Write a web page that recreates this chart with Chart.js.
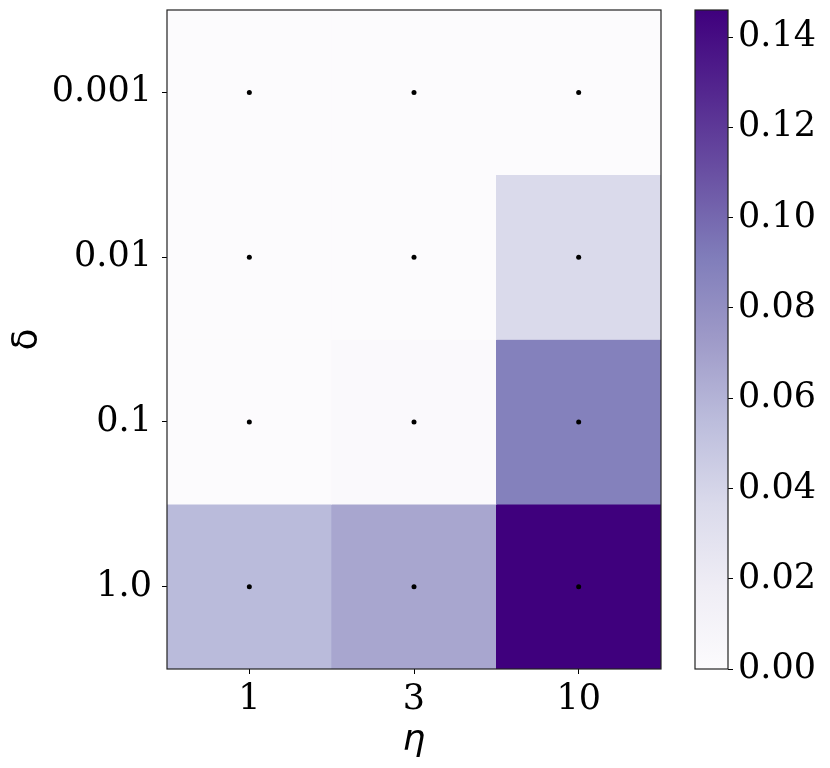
<!DOCTYPE html>
<html>
<head>
<meta charset="utf-8">
<script src="https://cdn.jsdelivr.net/npm/chart.js@4.4.1/dist/chart.umd.min.js"></script>
<style>
  body { margin: 0; background: #fff; }
  #wrap { position: relative; width: 830px; height: 768px; }
  canvas { position: absolute; top: 0; }
  #heat { left: 0; }
  #bar { left: 680px; }
</style>
</head>
<body>
<div id="wrap">
  <canvas id="heat" width="680" height="768"></canvas>
  <canvas id="bar" width="150" height="768"></canvas>
</div>
<script>
// data, rows from top to bottom
let etaLabels = ["1", "3", "10"];
let deltaLabels = ["0.001", "0.01", "0.1", "1.0"];
let row0001 = [0.0002, 0.0002, 0.0004];
let row001 = [0.0002, 0.0003, 0.0365];
let row01 = [0.0003, 0.003, 0.089];
let row1 = [0.056, 0.067, 0.146];
let allRows = [row0001, row001, row01, row1];
let colorbarTicks = [0, 0.02, 0.04, 0.06, 0.08, 0.1, 0.12, 0.14];
let vmax = 0.146;

// matplotlib Purples
let purpleStops = ["#fcfbfd", "#efedf5", "#dadaeb", "#bcbddc", "#9e9ac8", "#807dba", "#6a51a3", "#54278f", "#3f007d"];

function hexToRgb(hex) {
  return [parseInt(hex.substr(1, 2), 16), parseInt(hex.substr(3, 2), 16), parseInt(hex.substr(5, 2), 16)];
}

function purples(value) {
  let t = Math.max(0, Math.min(1, value / vmax)) * (purpleStops.length - 1);
  let i = Math.min(Math.floor(t), purpleStops.length - 2);
  let f = t - i;
  let a = hexToRgb(purpleStops[i]);
  let b = hexToRgb(purpleStops[i + 1]);
  let c = a.map((v, k) => Math.round(v + (b[k] - v) * f));
  return `rgb(${c[0]}, ${c[1]}, ${c[2]})`;
}

Chart.defaults.font.family = "DejaVu Serif";
Chart.defaults.font.size = 35;
Chart.defaults.color = "#000";
Chart.defaults.animation = false;

let framePlugin = {
  id: "frame",
  afterDraw(chart) {
    let a = chart.chartArea;
    let ctx = chart.ctx;
    ctx.save();
    ctx.strokeStyle = "#222";
    ctx.lineWidth = 1.2;
    ctx.strokeRect(a.left, a.top, a.right - a.left, a.bottom - a.top);
    ctx.restore();
  },
};

function noEdgePadding(scale) {
  scale.paddingTop = 0;
  scale.paddingBottom = 0;
  scale.paddingLeft = 0;
  scale.paddingRight = 0;
}

function buildDatasets() {
  let sets = [];
  let n = deltaLabels.length;
  for (let r = 0; r < n; r++) {
    let y0 = n - r - 1;
    sets.push({
      type: "bar",
      label: deltaLabels[r],
      data: allRows[r].map(() => [y0, y0 + 1]),
      backgroundColor: allRows[r].map((v) => purples(v)),
      borderWidth: 0,
      barPercentage: 1,
      categoryPercentage: 1,
      grouped: false,
      order: 1,
    });
  }
  let dots = [];
  for (let r = 0; r < n; r++) {
    for (let c = 0; c < etaLabels.length; c++) {
      dots.push({ x: etaLabels[c], y: n - r - 0.5 });
    }
  }
  sets.push({
    type: "scatter",
    data: dots,
    pointRadius: 2.5,
    pointBackgroundColor: "#000",
    pointBorderWidth: 0,
    showLine: false,
    order: 0,
  });
  return sets;
}

new Chart(document.getElementById("heat"), {
  type: "bar",
  data: { labels: etaLabels, datasets: buildDatasets() },
  options: {
    responsive: false,
    devicePixelRatio: 1,
    layout: { padding: { top: 10, right: 19, left: 0, bottom: 0 } },
    plugins: { legend: { display: false }, tooltip: { enabled: false } },
    scales: {
      x: {
        type: "category",
        offset: true,
        grid: { offset: false, drawOnChartArea: false, drawTicks: true, tickLength: 5, color: "#000" },
        border: { display: false },
        ticks: { padding: 5, maxRotation: 0 },
        title: { display: true, text: "η", font: { family: "DejaVu Sans", style: "italic", size: 36 }, padding: { top: 0, bottom: 6 } },
        afterFit(scale) {
          scale.height = 99;
          noEdgePadding(scale);
        },
      },
      y: {
        type: "linear",
        min: 0,
        max: 4,
        grid: { drawOnChartArea: false, drawTicks: true, tickLength: 5, color: "#000" },
        border: { display: false },
        afterBuildTicks(scale) {
          scale.ticks = deltaLabels.map((l, i) => ({ value: deltaLabels.length - i - 0.5 }));
        },
        ticks: {
          padding: 10,
          callback: (v) => deltaLabels[deltaLabels.length - 1 - Math.floor(v)],
        },
        title: { display: true, text: "δ", font: { family: "DejaVu Sans", size: 36 }, padding: { top: 6, bottom: 0 } },
        afterFit(scale) {
          scale.width = 167;
          noEdgePadding(scale);
        },
      },
    },
  },
  plugins: [framePlugin],
});

new Chart(document.getElementById("bar"), {
  type: "bar",
  data: {
    labels: [""],
    datasets: [
      {
        data: [[0, vmax]],
        borderWidth: 0,
        barPercentage: 1,
        categoryPercentage: 1,
        backgroundColor(context) {
          let chart = context.chart;
          let a = chart.chartArea;
          if (!a) return purpleStops[4];
          let g = chart.ctx.createLinearGradient(0, a.bottom, 0, a.top);
          purpleStops.forEach((c, i) => g.addColorStop(i / (purpleStops.length - 1), c));
          return g;
        },
      },
    ],
  },
  options: {
    responsive: false,
    devicePixelRatio: 1,
    layout: { padding: { top: 10, left: 15, bottom: 99, right: 0 } },
    plugins: { legend: { display: false }, tooltip: { enabled: false } },
    scales: {
      x: { display: false },
      y: {
        position: "right",
        min: 0,
        max: vmax,
        grid: { drawOnChartArea: false, drawTicks: true, tickLength: 5, color: "#000" },
        border: { display: false },
        afterBuildTicks(scale) {
          scale.ticks = colorbarTicks.map((v) => ({ value: v }));
        },
        ticks: { padding: 5, callback: (v) => v.toFixed(2) },
        afterFit(scale) {
          scale.width = 102;
          noEdgePadding(scale);
        },
      },
    },
  },
  plugins: [framePlugin],
});
</script>
</body>
</html>
